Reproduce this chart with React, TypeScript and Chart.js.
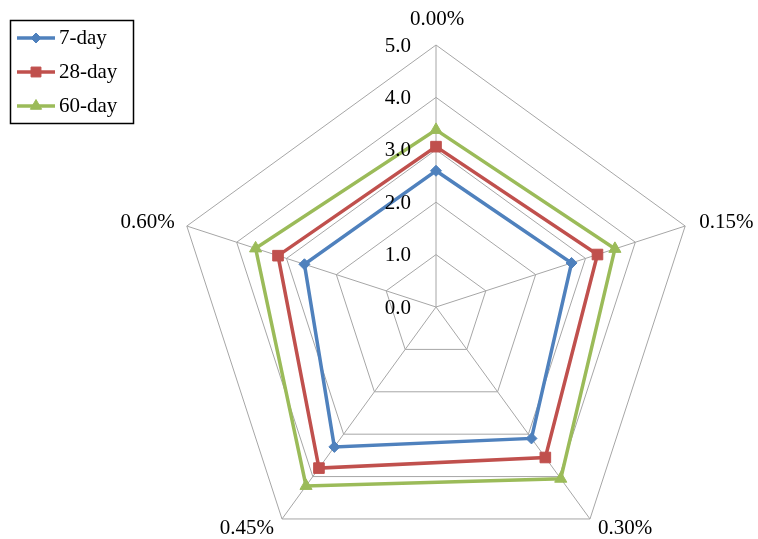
import React, { useEffect, useRef } from "react";
import { Chart, registerables } from "chart.js";

Chart.register(...registerables);

const categories = ["0.00%", "0.15%", "0.30%", "0.45%", "0.60%"];
const series7 = [2.6, 2.72, 3.1, 3.3, 2.64];
const series28 = [3.06, 3.24, 3.55, 3.8, 3.17];
const series60 = [3.38, 3.59, 4.05, 4.22, 3.62];
const tickValues = [0, 1, 2, 3, 4, 5];
const tickLabels = ["0.0", "1.0", "2.0", "3.0", "4.0", "5.0"];
const seriesNames = ["7-day", "28-day", "60-day"];

const COLORS = ["#4F81BD", "#C0504D", "#9BBB59"];
const STYLES = ["rectRot", "rect", "triangle"];
const RADII = [5.5, 7.5, 7];
const FONT = '"Liberation Serif", "Times New Roman", serif';

// label layout: [dx, dy, align]
const LABEL_OFFSETS: [number, number, CanvasTextAlign][] = [
  [1, -26, "center"],
  [14, -4, "left"],
  [8, 10, "left"],
  [-8, 10, "right"],
  [-12, -4, "right"],
];

function marker(ctx: CanvasRenderingContext2D, style: string, r: number, x: number, y: number) {
  ctx.beginPath();
  if (style === "rectRot") {
    ctx.moveTo(x, y - r);
    ctx.lineTo(x + r, y);
    ctx.lineTo(x, y + r);
    ctx.lineTo(x - r, y);
    ctx.closePath();
  } else if (style === "rect") {
    const s = r * Math.SQRT1_2;
    ctx.rect(x - s, y - s, 2 * s, 2 * s);
  } else {
    const h = r * 1.5;
    ctx.moveTo(x, y - r);
    ctx.lineTo(x + r * 0.866, y + r * 0.5);
    ctx.lineTo(x - r * 0.866, y + r * 0.5);
    ctx.closePath();
    void h;
  }
  ctx.fill();
  ctx.stroke();
}

export default function App() {
  const ref = useRef<HTMLCanvasElement | null>(null);
  useEffect(() => {
    document.body.style.margin = "0";
    const canvas = ref.current;
    if (!canvas) return;
    const overlay = {
      id: "overlay",
      afterDraw(chart: any) {
        const ctx = chart.ctx as CanvasRenderingContext2D;
        const scale = chart.scales.r;
        ctx.save();
        ctx.fillStyle = "#000";
        ctx.font = `21px ${FONT}`;
        // tick labels
        ctx.textAlign = "right";
        ctx.textBaseline = "middle";
        tickValues.forEach((v, i) => {
          const d = scale.getDistanceFromCenterForValue(v);
          ctx.fillText(tickLabels[i], scale.xCenter - 25, scale.yCenter - d + 1);
        });
        // point labels
        categories.forEach((c, i) => {
          const p = scale.getPointPositionForValue(i, 5);
          const [dx, dy, al] = LABEL_OFFSETS[i];
          ctx.textAlign = al;
          ctx.fillText(c, p.x + dx, p.y + dy);
        });
        // legend
        const bx = 10.5, by = 20.5, bw = 123, bh = 103;
        ctx.strokeStyle = "#000";
        ctx.lineWidth = 1.5;
        ctx.strokeRect(bx, by, bw, bh);
        ctx.textAlign = "left";
        seriesNames.forEach((n, i) => {
          const y = 38 + i * 34;
          ctx.strokeStyle = COLORS[i];
          ctx.lineWidth = 3.5;
          ctx.beginPath();
          ctx.moveTo(17, y);
          ctx.lineTo(55, y);
          ctx.stroke();
          ctx.fillStyle = COLORS[i];
          ctx.lineWidth = 1;
          marker(ctx, STYLES[i], RADII[i] - 0.5, 36, y);
          ctx.fillStyle = "#000";
          ctx.fillText(n, 59, y);
        });
        ctx.restore();
      },
    };
    const mk = (data: number[], i: number) => ({
      label: seriesNames[i],
      data,
      borderColor: COLORS[i],
      backgroundColor: COLORS[i],
      borderWidth: 3.5,
      fill: false,
      pointStyle: STYLES[i],
      pointRadius: RADII[i],
      pointBorderWidth: 1,
      pointBackgroundColor: COLORS[i],
      pointBorderColor: COLORS[i],
      tension: 0,
    });
    const chart = new Chart(canvas, {
      type: "radar",
      data: {
        labels: categories,
        datasets: [mk(series7, 0), mk(series28, 1), mk(series60, 2)],
      },
      options: {
        animation: false,
        responsive: false,
        plugins: { legend: { display: false }, tooltip: { enabled: false } },
        scales: {
          r: {
            min: 0,
            max: 5,
            ticks: { stepSize: 1, display: false, showLabelBackdrop: false },
            pointLabels: { display: false },
            grid: { color: "#A6A6A6", lineWidth: 1, circular: false },
            angleLines: { color: "#A6A6A6", lineWidth: 1 },
            afterFit: (s: any) => {
              s.xCenter = 436;
              s.yCenter = 307;
              s.drawingArea = 262;
            },
          } as any,
        },
      },
      plugins: [overlay],
    });
    return () => chart.destroy();
  }, []);
  return (
    <div style={{ width: 758, height: 539, background: "#fff" }}>
      <canvas ref={ref} width={758} height={539} />
    </div>
  );
}
